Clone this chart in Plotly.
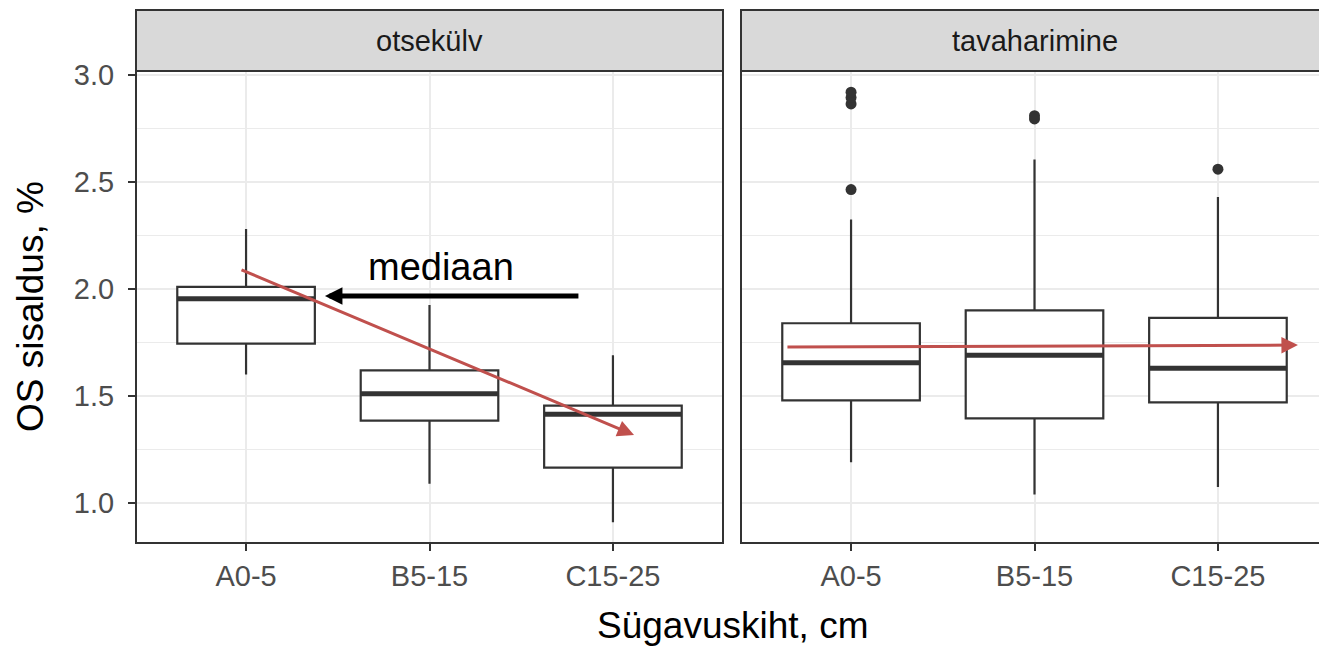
import plotly.graph_objects as go

# Soil layers (x categories) and their positions on the numeric axis
depths = ["A0-5", "B5-15", "C15-25"]
positions = [1, 2, 3]

# Facet labels
facets = ["otsekülv", "tavaharimine"]

# Box summaries for "otsekülv": lower whisker, Q1, median, Q3, upper whisker
otse_low = [1.60, 1.09, 0.91]
otse_q1 = [1.745, 1.385, 1.165]
otse_med = [1.955, 1.51, 1.415]
otse_q3 = [2.01, 1.62, 1.455]
otse_high = [2.28, 1.925, 1.69]

# Box summaries for "tavaharimine"
tava_low = [1.19, 1.04, 1.075]
tava_q1 = [1.48, 1.395, 1.47]
tava_med = [1.655, 1.69, 1.63]
tava_q3 = [1.84, 1.90, 1.865]
tava_high = [2.325, 2.605, 2.43]

# Outlying observations for "tavaharimine"
tava_out_pos = [1, 1, 1, 1, 2, 2, 3]
tava_out_val = [2.465, 2.865, 2.895, 2.92, 2.795, 2.81, 2.56]

# Y axis ticks
y_ticks = [1.0, 1.5, 2.0, 2.5, 3.0]

# Hand-drawn trend arrows (start -> end) and the median pointer
otse_trend = ((0.967, 2.093), (3.115, 1.318))
tava_trend = ((0.645, 1.729), (3.436, 1.738))
median_pointer = ((2.82, 1.967), (1.43, 1.967))
median_label = ("mediaan", 2.06, 2.103)

W, H = 1319, 648
FONT = "Liberation Sans, Arial, sans-serif"
DARK = "#333333"
GRID = "#EBEBEB"
RED = "#C0504D"
BOX_W = 0.75

# pixel geometry of the panels
P1_L, P1_R = 136, 723
P2_L = 741
P_TOP, P_BOT = 71, 543
STRIP_TOP = 10
UNIT_PX = (P1_R - P1_L) / 3.2


def fx(p):
    return p / W


def fy(p):
    return 1 - p / H


fig = go.Figure()


def add_panel(xa, ya, low, q1, med, q3, high):
    fig.add_trace(go.Box(
        x=positions, q1=q1, median=med, q3=q3, lowerfence=low, upperfence=high,
        width=BOX_W, whiskerwidth=0, fillcolor="white",
        line=dict(color=DARK, width=2.2), boxpoints=False,
        xaxis=xa, yaxis=ya, showlegend=False, hoverinfo="skip",
    ))
    mx, my = [], []
    for p, m in zip(positions, med):
        mx += [p - BOX_W / 2, p + BOX_W / 2, None]
        my += [m, m, None]
    fig.add_trace(go.Scatter(
        x=mx, y=my, mode="lines", line=dict(color=DARK, width=5),
        xaxis=xa, yaxis=ya, showlegend=False, hoverinfo="skip",
    ))


add_panel("x", "y", otse_low, otse_q1, otse_med, otse_q3, otse_high)
add_panel("x2", "y2", tava_low, tava_q1, tava_med, tava_q3, tava_high)

fig.add_trace(go.Scatter(
    x=tava_out_pos, y=tava_out_val, mode="markers",
    marker=dict(color=DARK, size=11, line=dict(width=0)),
    xaxis="x2", yaxis="y2", showlegend=False, hoverinfo="skip",
))

y_range = [0.813, 3.019]
xcommon = dict(
    tickvals=positions, ticktext=depths, showgrid=True, gridcolor=GRID, gridwidth=2,
    zeroline=False, showline=False, ticks="outside", ticklen=7, tickwidth=2,
    tickcolor=DARK, tickfont=dict(family=FONT, size=29, color="#4D4D4D"),
    automargin=False,
)
ycommon = dict(
    range=y_range, domain=[fy(P_BOT), fy(P_TOP)], tickvals=y_ticks, tickformat=".1f",
    showgrid=True, gridcolor=GRID, gridwidth=2, zeroline=False, showline=False,
    minor=dict(tickvals=[1.25, 1.75, 2.25, 2.75], showgrid=True, gridcolor=GRID,
               gridwidth=1, ticks=""),
    automargin=False,
)

fig.update_layout(
    width=W, height=H, margin=dict(l=0, r=0, t=0, b=0, autoexpand=False),
    paper_bgcolor="white", plot_bgcolor="white",
    xaxis=dict(domain=[fx(P1_L), fx(P1_R)], range=[0.4, 3.6], anchor="y", **xcommon),
    xaxis2=dict(domain=[fx(P2_L), 1.0], range=[0.4, 0.4 + (W - P2_L) / UNIT_PX],
                anchor="y2", **xcommon),
    yaxis=dict(anchor="x", ticks="outside", ticklen=7, tickwidth=2, tickcolor=DARK,
               ticklabelstandoff=8,
               tickfont=dict(family=FONT, size=29, color="#4D4D4D"), **ycommon),
    yaxis2=dict(anchor="x2", matches="y", showticklabels=False, ticks="", **ycommon),
)

shapes = []
# panel frames
shapes.append(dict(type="rect", xref="paper", yref="paper",
                   x0=fx(P1_L), x1=fx(P1_R), y0=fy(P_BOT), y1=fy(P_TOP),
                   line=dict(color=DARK, width=2), fillcolor="rgba(0,0,0,0)", layer="above"))
shapes.append(dict(type="rect", xref="paper", yref="paper",
                   x0=fx(P2_L), x1=1.05, y0=fy(P_BOT), y1=fy(P_TOP),
                   line=dict(color=DARK, width=2), fillcolor="rgba(0,0,0,0)", layer="above"))
# facet strips
for x0, x1 in [(fx(P1_L), fx(P1_R)), (fx(P2_L), 1.05)]:
    shapes.append(dict(type="rect", xref="paper", yref="paper",
                       x0=x0, x1=x1, y0=fy(P_TOP), y1=fy(STRIP_TOP),
                       line=dict(color=DARK, width=2), fillcolor="#D9D9D9", layer="above"))
fig.update_layout(shapes=shapes)

annotations = []
# strip labels
strip_centres = [(P1_L + P1_R) / 2, (P2_L + P2_L + (P1_R - P1_L)) / 2]
for label, cx in zip(facets, strip_centres):
    annotations.append(dict(text=label, xref="paper", yref="paper",
                            x=fx(cx), y=fy((P_TOP + STRIP_TOP) / 2),
                            xanchor="center", yanchor="middle", showarrow=False,
                            font=dict(family=FONT, size=29, color="#1A1A1A")))
# axis titles
annotations.append(dict(text="Sügavuskiht, cm", xref="paper", yref="paper",
                        x=fx((P1_L + P2_L + (P1_R - P1_L)) / 2), y=fy(625),
                        xanchor="center", yanchor="middle", showarrow=False,
                        font=dict(family=FONT, size=37, color="black")))
annotations.append(dict(text="OS sisaldus, %", xref="paper", yref="paper",
                        x=fx(30), y=fy((P_TOP + P_BOT) / 2), textangle=-90,
                        xanchor="center", yanchor="middle", showarrow=False,
                        font=dict(family=FONT, size=37, color="black")))

# trend arrows
for (s, e), xa, ya in [(otse_trend, "x", "y"), (tava_trend, "x2", "y2")]:
    annotations.append(dict(x=e[0], y=e[1], ax=s[0], ay=s[1], xref=xa, yref=ya,
                            axref=xa, ayref=ya, text="", showarrow=True,
                            arrowhead=2, arrowsize=1.1, arrowwidth=3, arrowcolor=RED))
# median pointer and its label
(ms, me) = median_pointer
annotations.append(dict(x=me[0], y=me[1], ax=ms[0], ay=ms[1], xref="x", yref="y",
                        axref="x", ayref="y", text="", showarrow=True,
                        arrowhead=2, arrowsize=0.7, arrowwidth=5, arrowcolor="black"))
annotations.append(dict(text=median_label[0], x=median_label[1], y=median_label[2],
                        xref="x", yref="y", xanchor="center", yanchor="middle",
                        showarrow=False, font=dict(family=FONT, size=38, color="black")))
fig.update_layout(annotations=annotations)

fig.write_html("out.html")
